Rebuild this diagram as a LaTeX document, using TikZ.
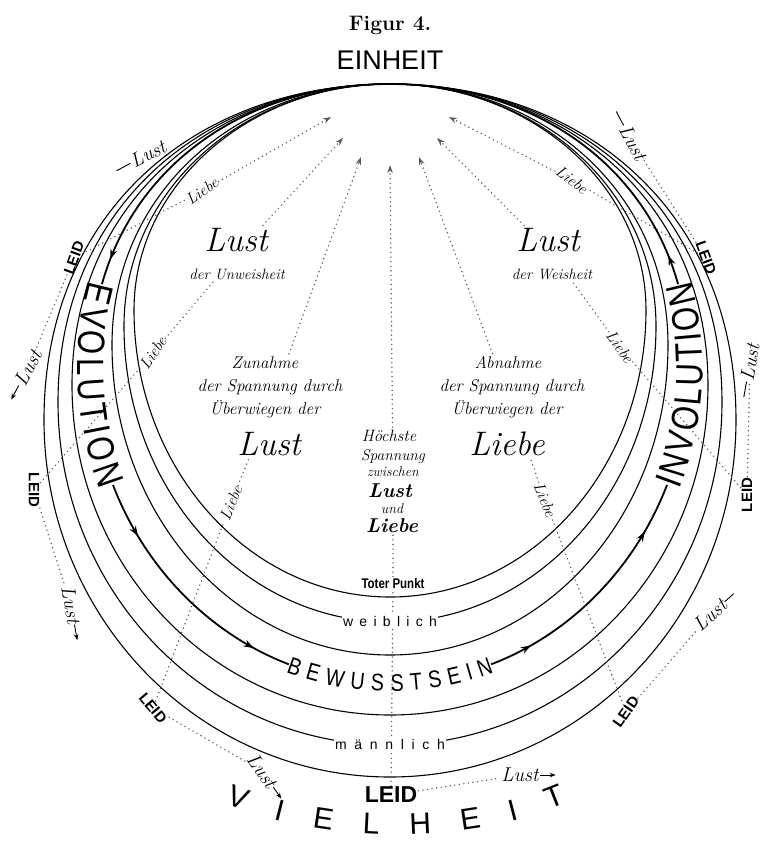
\documentclass[tikz,border=0pt]{standalone}
\usepackage{fontspec}
\newfontfamily\plainsans{Liberation Sans}
\newfontfamily\narrowsans[FakeStretch=0.82]{Liberation Sans}
\usetikzlibrary{arrows.meta,calc,fit,backgrounds,decorations.text,decorations.markings}

\newcommand\evofont{\narrowsans\fontsize{38}{38}\selectfont}
\newcommand\bewfont{\narrowsans\fontsize{24}{24}\selectfont}
\newcommand\vielfont{\plainsans\fontsize{30}{30}\selectfont}

\begin{document}
\begin{tikzpicture}[x=1pt, y=-1pt,
  ring/.style={line width=1.1pt},
  flow/.style={line width=1.8pt},
  flowtip/.style={postaction={decorate, decoration={markings,
    mark=at position #1 with {\arrow{Stealth[length=10pt,width=7pt]}}}}},
  ray/.style={line width=1.6pt, line cap=round, dash pattern=on 0pt off 4.6pt, black!65},
  raytip/.style={-{Stealth[length=8pt,width=5.5pt]}},
  stub/.style={line width=0.9pt},
  stubtip/.style={-{Stealth[length=6pt,width=4.5pt]}},
  leid/.style={font=\plainsans\bfseries\fontsize{15}{15}\selectfont, inner sep=1pt},
  lustlab/.style={font=\itshape\fontsize{20}{20}\selectfont, inner sep=1pt},
  liebelab/.style={font=\itshape\fontsize{16}{16}\selectfont, inner sep=1pt},
  txt/.style={anchor=base, inner sep=1pt, font=\itshape\fontsize{#1}{#1}\selectfont},
  boldtxt/.style={anchor=base, inner sep=1pt, font=\bfseries\itshape\fontsize{#1}{#1}\selectfont},
  blockfit/.style={inner sep=1pt},
  sexlab/.style={fill=white, inner sep=1.5pt, font=\plainsans\fontsize{14}{14}\selectfont\addfontfeature{LetterSpace=#1}}]
\useasboundingbox (0,0) rectangle (764,847);

% headings
\node[font=\bfseries\fontsize{21}{21}\selectfont] (fig) at (390,25) {Figur 4.};
\node[font=\plainsans\fontsize{27}{27}\selectfont] (einheit) at (390,60) {EINHEIT};

% texts inside the rings
\node[txt=34] (unw1) at (236,251) {Lust};
\node[txt=15] (unw2) at (237,279) {der Unweisheit};
\node[blockfit, fit=(unw1)(unw2)] (unw) {};
\node[txt=34] (weis1) at (548,251) {Lust};
\node[txt=15] (weis2) at (552,279) {der Weisheit};
\node[blockfit, fit=(weis1)(weis2)] (weis) {};

\node[txt=17] (zun1) at (265,368) {Zunahme};
\node[txt=17] (zun2) at (270,391) {der Spannung durch};
\node[txt=17] (zun3) at (265,414) {Überwiegen der};
\node[txt=34] (zun4) at (269,455) {Lust};
\node[blockfit, fit=(zun1)(zun2)(zun3)(zun4)] (zun) {};
\node[txt=17] (abn1) at (508,368) {Abnahme};
\node[txt=17] (abn2) at (512,391) {der Spannung durch};
\node[txt=17] (abn3) at (507,414) {Überwiegen der};
\node[txt=34] (abn4) at (507,455) {Liebe};
\node[blockfit, fit=(abn1)(abn2)(abn3)(abn4)] (abn) {};

\node[txt=16.5] (hoe1) at (389,441) {Höchste};
\node[txt=15.5] (hoe2) at (393,460) {Spannung};
\node[txt=14] (hoe3) at (393,476) {zwischen};
\node[boldtxt=20] (hoe4) at (390,497) {Lust};
\node[txt=14] (hoe5) at (392,513) {und};
\node[boldtxt=20] (hoe6) at (392,532) {Liebe};
\node[blockfit, fit=(hoe1)(hoe2)(hoe3)(hoe4)(hoe5)(hoe6)] (hoe) {};

\node[font=\narrowsans\bfseries\fontsize{14}{14}\selectfont, inner sep=1pt] (tp) at (393,583) {Toter Punkt};
\node[sexlab=45] (wbl) at (390,621) {weiblich};
\node[sexlab=55] (mnl) at (390,744) {männlich};

% LEID round the outer ring
\node[leid, rotate=70] (leidTL) at (74,258) {LEID};
\node[leid, rotate=-90] (leidML) at (34,490) {LEID};
\node[leid, rotate=-50] (leidBL) at (153,708) {LEID};
\node[leid, font=\plainsans\bfseries\fontsize{23}{23}\selectfont] (leidB) at (391,795) {LEID};
\node[leid, rotate=55] (leidBR) at (626,712) {LEID};
\node[leid, rotate=90] (leidMR) at (747,495) {LEID};
\node[leid, rotate=-70] (leidTR) at (706,258) {LEID};

% Liebe
\node[liebelab, rotate=36] (liebeTL) at (202,191) {Liebe};
\node[liebelab, rotate=57] (liebeML) at (153,353) {Liebe};
\node[liebelab, rotate=68] (liebeBL) at (231,503) {Liebe};
\node[liebelab, rotate=-68] (liebeBR) at (545,500) {Liebe};
\node[liebelab, rotate=-55] (liebeMR) at (620,347) {Liebe};
\node[liebelab, rotate=-38] (liebeTR) at (572,180) {Liebe};

% Lust
\node[lustlab, rotate=28] (lustTL) at (148,154) {Lust};
\node[lustlab, rotate=62] (lustML) at (28,368) {Lust};
\node[lustlab, rotate=-80] (lustBL) at (71,605) {Lust};
\node[lustlab, rotate=-55] (lustBB) at (262,771) {Lust};
\node[lustlab] (lustB) at (520,775) {Lust};
\node[lustlab, rotate=42] (lustBR) at (710,615) {Lust};
\node[lustlab, rotate=80] (lustMR) at (750,362) {Lust};
\node[lustlab, rotate=-62] (lustTR) at (633,143) {Lust};

\draw[stub] ($(lustTL.west)!-0.4!(lustTL.east)$) -- (lustTL.west);
\draw[stub, stubtip] (lustML.west) -- ($(lustML.west)!-0.4!(lustML.east)$);
\draw[stub, stubtip] (lustBL.east) -- ($(lustBL.west)!1.4!(lustBL.east)$);
\draw[stub, stubtip] (lustBB.east) -- ($(lustBB.west)!1.35!(lustBB.east)$);
\draw[stub, stubtip] (lustB.east) -- ($(lustB.west)!1.4!(lustB.east)$);
\draw[stub] (lustBR.east) -- ($(lustBR.west)!1.3!(lustBR.east)$);
\draw[stub] ($(lustMR.west)!-0.4!(lustMR.east)$) -- (lustMR.west);
\draw[stub] ($(lustTR.west)!-0.4!(lustTR.east)$) -- (lustTR.west);

% heads of the rays
\coordinate (hL1) at (331,117);
\coordinate (hL2) at (343,138);
\coordinate (hL3) at (361,157);
\coordinate (hC) at (390,165);
\coordinate (hR3) at (419,157);
\coordinate (hR2) at (437,138);
\coordinate (hR1) at (449,117);

% words on the flow line
\path[decorate, decoration={text along path, text={|\evofont|EVOLUTION}, text align=fit to path, raise=-13.5pt}]
  (101.9,284.2) .. controls (94.8,309.3) and (91,336.3) .. (91,365) .. controls (91,407.5) and (98.8,448) .. (113,485);
\path[decorate, decoration={text along path, text={|\evofont|INVOLUTION}, text align=fit to path, raise=-13.5pt}]
  (667,485) .. controls (681.2,448) and (689,407.5) .. (689,365) .. controls (689,336.3) and (685.2,309.3) .. (678.1,284.2);
\path[decorate, decoration={text along path, text={|\bewfont|BEWUSSTSEIN}, text align=fit to path, raise=-8.5pt}]
  (288.8,664.3) .. controls (320.4,676.4) and (354.5,683) .. (390,683) .. controls (425.5,683) and (459.6,676.4) .. (491.2,664.3);
\path[decorate, decoration={text along path, text={|\vielfont|VIELHEIT}, text align=fit to path}]
  (226,803) .. controls (326,845) and (468,845) .. (566,803);

\begin{scope}[on background layer]
% rings
\foreach \w/\yl/\b/\fa/\fb in {256/310/597/0.55/0.55, 266/326/622/0.55/0.56, 278/345/655/0.555/0.58,
    318/385/715/0.56/0.6, 332/402/745/0.56/0.61, 346/420/777/0.56/0.62} {
  \pgfmathsetmacro\xl{390-\w}
  \pgfmathsetmacro\xr{390+\w}
  \pgfmathsetmacro\ca{390-\fa*\w}
  \pgfmathsetmacro\cf{390+\fa*\w}
  \pgfmathsetmacro\cb{\yl-\fb*(\yl-84)}
  \pgfmathsetmacro\cc{\yl+0.552*(\b-\yl)}
  \pgfmathsetmacro\cd{390-0.552*\w}
  \pgfmathsetmacro\ce{390+0.552*\w}
  \draw[ring] (390,84) .. controls (\ca,84) and (\xl,\cb) .. (\xl,\yl)
    .. controls (\xl,\cc) and (\cd,\b) .. (390,\b)
    .. controls (\ce,\b) and (\xr,\cc) .. (\xr,\yl)
    .. controls (\xr,\cb) and (\cf,84) .. (390,84);
}
% flow line
\draw[flow, flowtip=0.93] (390,84) .. controls (249.7,84) and (136.3,161.4) .. (101.9,284.2);
\draw[flow, flowtip=0.22, flowtip=0.85] (113,485) .. controls (144.9,568.1) and (209,633.7) .. (288.8,664.3);
\draw[flow, flowtip=0.17, flowtip=0.8] (491.2,664.3) .. controls (571,633.7) and (635.1,568.1) .. (667,485);
\draw[flow, flowtip=0.08] (678.1,284.2) .. controls (643.7,161.4) and (530.3,84) .. (390,84);
% rays
\draw[ray, raytip] (leidTL) -- (liebeTL) -- (hL1);
\draw[ray, raytip] (leidML) -- (liebeML) -- (unw) -- (hL2);
\draw[ray, raytip] (leidBL) -- (liebeBL) -- (zun) -- (hL3);
\draw[ray, raytip] (leidB) -- (tp) -- (hoe) -- (hC);
\draw[ray, raytip] (leidBR) -- (liebeBR) -- (abn) -- (hR3);
\draw[ray, raytip] (leidMR) -- (liebeMR) -- (weis) -- (hR2);
\draw[ray, raytip] (leidTR) -- (liebeTR) -- (hR1);
% LEID to Lust
\draw[ray] (leidTL) -- (lustML);
\draw[ray] (leidML) -- (lustBL);
\draw[ray] (leidBL) -- (lustBB);
\draw[ray] (leidB) -- (lustB);
\draw[ray] (leidBR) -- (lustBR);
\draw[ray] (leidMR) -- (lustMR);
\draw[ray] (leidTR) -- (lustTR);
\end{scope}
\end{tikzpicture}
\end{document}
